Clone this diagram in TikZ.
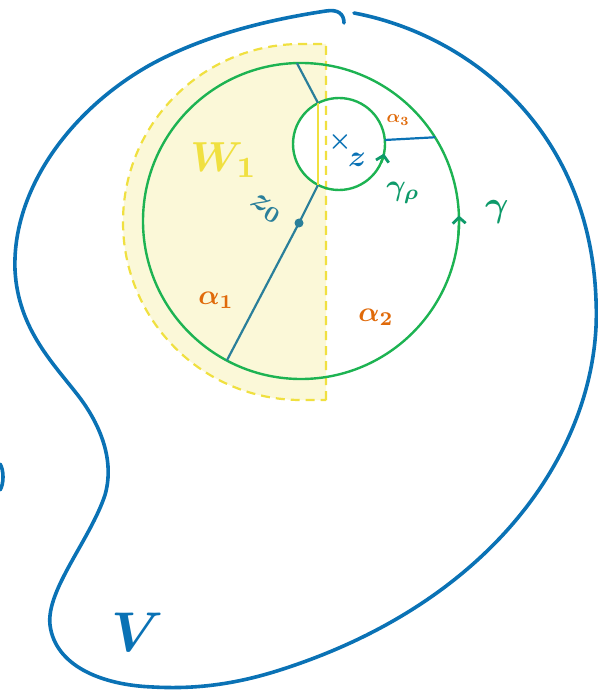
\documentclass[tikz,border=0pt]{standalone}
\usepackage{graphicx}
\usetikzlibrary{arrows.meta,calc}
\definecolor{vblue}{HTML}{0A72B5}
\definecolor{cgreen}{HTML}{1DB352}
\definecolor{dgreen}{HTML}{0E9A6A}
\definecolor{teal2}{HTML}{2A7F9A}
\definecolor{aorange}{HTML}{E06A0A}
\definecolor{wyellow}{HTML}{F0E040}
\definecolor{wfill}{HTML}{FBF8D8}
\tikzset{
  curveV/.style={draw=vblue,line width=3.6pt,line cap=round,line join=round},
  circ/.style={draw=cgreen,line width=2.4pt},
  seg/.style={draw=teal2,line width=2.2pt},
  orient/.style={draw=cgreen,line width=2.4pt,-{Straight Barb[length=6pt,width=13pt,color=dgreen,line width=2.8pt]}},
  lab/.style={inner sep=0pt},
}
\newcommand{\lbl}[2]{\scalebox{#1}{\boldmath$#2$}}
\begin{document}
\begin{tikzpicture}[x=1pt,y=-1pt]
\useasboundingbox (0,0) rectangle (597,692);
\coordinate (C) at (301,221);
\coordinate (S) at (339,144);
% W1 region
\fill[wfill] (326,44) -- (301,44) arc[start angle=270,end angle=90,radius=178] -- (326,400) -- cycle;
\fill[white] (S) circle[radius=46];
\draw[wyellow,line width=2.2pt,dash pattern=on 9pt off 6pt] (326,400) -- (326,44) -- (301,44) arc[start angle=270,end angle=90,radius=178] -- cycle;
% circles
\draw[circ] (C) circle[radius=158];
\draw[circ] (S) circle[radius=46];
% points
\coordinate (z0) at (299,223);
\coordinate (A1) at ($(C)+(118:158)$);
\coordinate (Ptop) at ($(C)+(268.5:158)$);
\coordinate (Pr) at ($(C)+(328:158)$);
\coordinate (Sb) at (318,185);
\coordinate (St) at (318,103);
\coordinate (Sr) at ($(S)+(355:46)$);
\draw[seg] (z0) -- (A1);
\draw[seg] (z0) -- (Sb);
\draw[wyellow,line width=2.2pt] (Sb) -- (St);
\draw[seg] (St) -- (Ptop);
\draw[draw=vblue,line width=2.2pt] (Sr) -- (Pr);
\fill[teal2] (z0) circle[radius=4.5pt];
% orientation arrows
\draw[orient] ($(S)+(24:46)$) arc[start angle=24,end angle=12,radius=46];
\draw[orient] ($(C)+(5:158)$) arc[start angle=5,end angle=-2,radius=158];
% curve V
\coordinate (v0) at (354,13);
\coordinate (v1) at (596,300);
\coordinate (v2) at (280,670);
\coordinate (v3) at (153,687);
\coordinate (v4) at (50,625);
\coordinate (v5) at (105,495);
\coordinate (v6) at (80,398);
\coordinate (v7) at (15,270);
\coordinate (v8) at (150,65);
\coordinate (v9) at (326,11);
\coordinate (v10) at (344,23);
\draw[curveV] (v0) .. controls (470,35) and (590,130) .. (v1)
  .. controls (603,440) and (500,600) .. (v2)
  .. controls (230,686) and (190,689) .. (v3)
  .. controls (100,685) and (55,665) .. (v4)
  .. controls (46,590) and (90,540) .. (v5)
  .. controls (115,460) and (100,425) .. (v6)
  .. controls (55,365) and (18,330) .. (v7)
  .. controls (12,190) and (70,110) .. (v8)
  .. controls (210,32) and (280,18) .. (v9)
  .. controls (338,9) and (344,14) .. (v10);
\coordinate (e0) at (0,464);
\coordinate (e1) at (0,490);
\draw[curveV] (e0) .. controls (4,470) and (4,484) .. (e1);
% labels
\node[lab,text=wyellow] (W) at (224,160) {\lbl{4.2}{W_1}};
\node[lab,text=teal2,rotate=-30] (lz0) at (266,209) {\lbl{3.2}{z_0}};
\node[lab,text=vblue] (cross) at (340,142) {\lbl{2.6}{\times}};
\node[lab,text=vblue] (lz) at (357,160) {\lbl{3}{z}};
\node[lab,text=aorange] (la3) at (398,120) {\lbl{1.8}{\alpha_3}};
\node[lab,text=dgreen] (lgr) at (403,193) {\lbl{3}{\gamma_\rho}};
\node[lab,text=dgreen] (lg) at (497,212) {\lbl{3.6}{\gamma}};
\node[lab,text=aorange] (la1) at (216,300) {\lbl{2.8}{\alpha_1}};
\node[lab,text=aorange] (la2) at (376,317) {\lbl{2.8}{\alpha_2}};
\node[lab,text=vblue] (lV) at (138,632) {\lbl{5.6}{V}};
\end{tikzpicture}
\end{document}
